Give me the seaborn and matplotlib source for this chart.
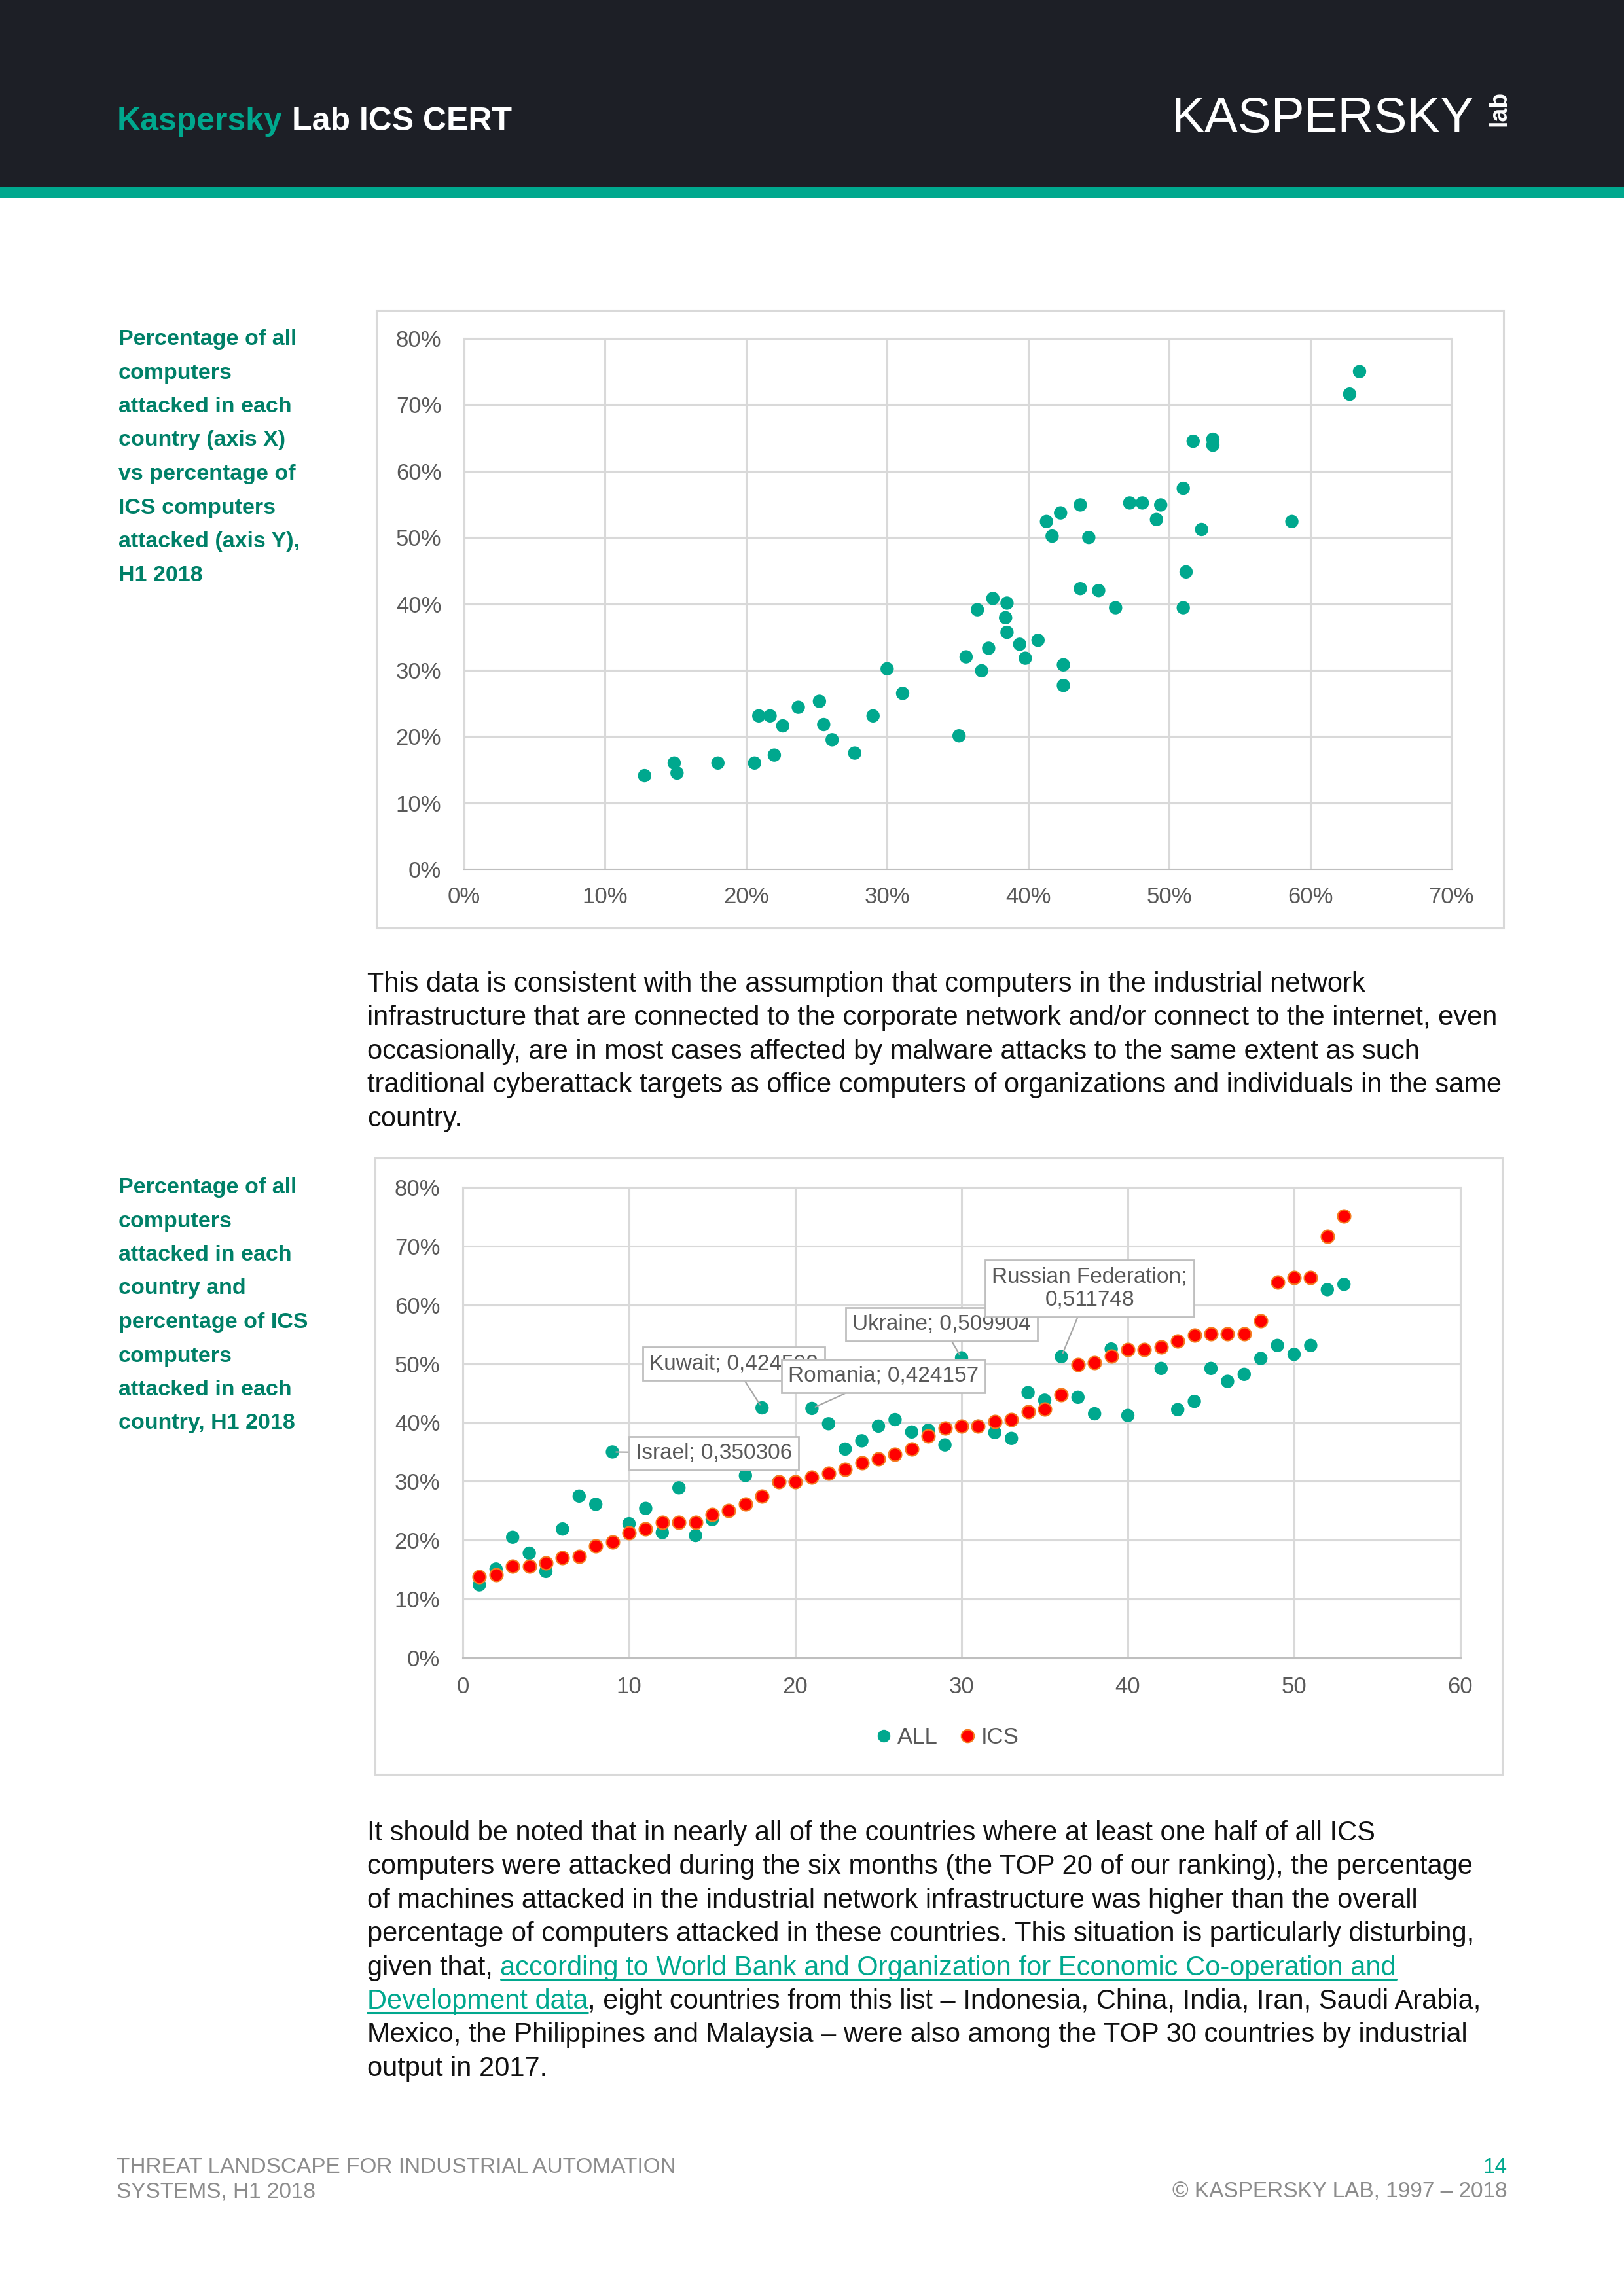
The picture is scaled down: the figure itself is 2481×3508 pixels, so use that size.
import numpy as np
import pandas as pd
import matplotlib
matplotlib.use("Agg")
import matplotlib.pyplot as plt
import seaborn as sns
from matplotlib import font_manager
from matplotlib.ticker import FuncFormatter, MultipleLocator
from matplotlib.patches import Rectangle
from matplotlib.lines import Line2D

# ---------------- data ----------------
# Chart 1: share of all computers attacked (x) vs share of ICS computers attacked (y), %
top_all = [12.8, 14.9, 15.1, 18.0, 20.6, 20.9, 21.7, 22.0, 22.6, 23.7, 25.2, 25.5, 26.1,
           27.7, 29.0, 30.0, 31.1, 35.1, 35.6, 36.4, 36.7, 37.2, 37.5, 38.5, 38.4, 38.5,
           39.4, 39.8, 40.7, 41.3, 41.7, 42.3, 42.5, 42.5, 43.7, 43.7, 44.3, 45.0, 46.2,
           47.2, 48.1, 49.4, 49.1, 51.0, 51.2, 51.0, 51.7, 53.1, 53.1, 52.3, 58.7, 62.8, 63.5]
top_ics = [14.1, 16.0, 14.5, 16.0, 16.0, 23.1, 23.1, 17.2, 21.6, 24.4, 25.3, 21.8, 19.5,
           17.5, 23.1, 30.2, 26.5, 20.1, 32.0, 39.1, 29.9, 33.3, 40.8, 40.1, 37.9, 35.7,
           33.9, 31.8, 34.5, 52.4, 50.2, 53.7, 30.8, 27.7, 54.9, 42.3, 50.0, 42.0, 39.4,
           55.2, 55.2, 54.9, 52.7, 57.4, 44.8, 39.4, 64.5, 64.8, 63.9, 51.2, 52.4, 71.6, 75.0]

# Chart 2: countries ranked by ICS share (x = rank), %
rank = list(range(1, 54))
bottom_all = [12.4, 15.1, 20.5, 17.8, 14.7, 21.9, 27.5, 26.1, 35.0, 22.8,
              25.4, 21.3, 28.9, 20.8, 23.5, 25.0, 31.0, 42.5, 29.9, 29.9,
              42.4, 39.8, 35.5, 36.9, 39.4, 40.5, 38.4, 38.7, 36.2, 51.0,
              39.4, 38.3, 37.3, 45.1, 43.8, 51.2, 44.3, 41.5, 52.5, 41.2,
              52.4, 49.2, 42.2, 43.6, 49.2, 47.0, 48.2, 50.9, 53.1, 51.6,
              53.1, 62.6, 63.5]
bottom_ics = [13.8, 14.1, 15.6, 15.6, 16.1, 17.0, 17.3, 19.0, 19.7, 21.3,
              21.9, 23.0, 23.0, 23.0, 24.4, 25.0, 26.2, 27.5, 29.9, 29.9,
              30.7, 31.4, 32.1, 33.2, 33.8, 34.6, 35.5, 37.7, 39.1, 39.4,
              39.4, 40.2, 40.5, 41.8, 42.3, 44.7, 49.9, 50.2, 51.3, 52.4,
              52.4, 52.8, 53.8, 54.9, 55.1, 55.1, 55.1, 57.3, 63.9, 64.6,
              64.6, 71.6, 75.1]
series_names = ["ALL", "ICS"]
label_countries = ["Israel", "Kuwait", "Romania", "Ukraine", "Russian Federation"]
label_ranks = [9, 18, 21, 30, 36]
label_values = ["0,350306", "0,424590", "0,424157", "0,509904", "0,511748"]

top_xticks = [0, 10, 20, 30, 40, 50, 60, 70]
yticks = [0, 10, 20, 30, 40, 50, 60, 70, 80]
bottom_xticks = [0, 10, 20, 30, 40, 50, 60]

# ---------------- style ----------------
W, H = 2481, 3508
sns.set_style("white")
names = {f.name for f in font_manager.fontManager.ttflist}
BASE = "Liberation Sans" if "Liberation Sans" in names else "DejaVu Sans"
NARROW = "Liberation Sans Narrow" if "Liberation Sans Narrow" in names else None
plt.rcParams["font.family"] = [BASE, "DejaVu Sans"]

TEAL = "#00A88E"
DARK_TEAL = "#008068"
GRID = "#d9d9d9"
TICK = "#595959"
RED = "#FF0000"
RED_EDGE = "#F47B20"

fig = plt.figure(figsize=(W / 100, H / 100), dpi=100)
fig.patch.set_facecolor("white")


def fx(x):
    return x / W


def fy(y):
    return 1 - y / H


renderer = fig.canvas.get_renderer()


def text_w(t):
    return t.get_window_extent(renderer=renderer).width


def space_w(size, weight="normal"):
    a = fig.text(0, 0, "a a", fontsize=size, weight=weight)
    b = fig.text(0, 0, "aa", fontsize=size, weight=weight)
    w = text_w(a) - text_w(b)
    a.remove(); b.remove()
    return w


# ---------------- header ----------------
fig.add_artist(Rectangle((0, fy(286)), 1, 286 / H, transform=fig.transFigure,
                         facecolor="#1d1f26", edgecolor="none", zorder=0))
fig.add_artist(Rectangle((0, fy(303)), 1, 17 / H, transform=fig.transFigure,
                         facecolor=TEAL, edgecolor="none", zorder=0))
t1 = fig.text(fx(179), fy(199), "Kaspersky", color=TEAL, fontsize=36,
              weight="bold", va="baseline", ha="left")
w1 = text_w(t1)
sp = space_w(36, "bold")
fig.text(fx(179 + w1 + sp), fy(199), "Lab ICS CERT", color="white", fontsize=36,
         weight="bold", va="baseline", ha="left")

logo_family = [NARROW, BASE] if NARROW else [BASE]
fig.text(fx(2252), fy(202), "KASPERSKY", color="white",
         fontsize=68 if NARROW else 55, family=logo_family,
         va="baseline", ha="right")
fig.text(fx(2290), fy(166), "lab", color="white", fontsize=27, weight="bold",
         rotation=90, va="center", ha="center")

# ---------------- side titles ----------------
side_family = [NARROW, BASE] if NARROW else [BASE]
side_size = 30 if NARROW else 24.5
side1 = ["Percentage of all", "computers", "attacked in each", "country (axis X)",
         "vs percentage of", "ICS computers", "attacked (axis Y),", "H1 2018"]
side2 = ["Percentage of all", "computers", "attacked in each", "country and",
         "percentage of ICS", "computers", "attacked in each", "country, H1 2018"]
for i, line in enumerate(side1):
    fig.text(fx(181), fy(527 + i * 51.5), line, color=DARK_TEAL, fontsize=side_size,
             weight="bold", family=side_family, va="baseline")
for i, line in enumerate(side2):
    fig.text(fx(181), fy(1823 + i * 51.5), line, color=DARK_TEAL, fontsize=side_size,
             weight="bold", family=side_family, va="baseline")

# ---------------- body text ----------------
BODY = 30
LH = 51.4
para1 = ["This data is consistent with the assumption that computers in the industrial network",
         "infrastructure that are connected to the corporate network and/or connect to the internet, even",
         "occasionally, are in most cases affected by malware attacks to the same extent as such",
         "traditional cyberattack targets as office computers of organizations and individuals in the same",
         "country."]
for i, line in enumerate(para1):
    fig.text(fx(561), fy(1515 + i * LH), line, color="#111111", fontsize=BODY,
             va="baseline")

para2_pre = ["It should be noted that in nearly all of the countries where at least one half of all ICS",
             "computers were attacked during the six months (the TOP 20 of our ranking), the percentage",
             "of machines attacked in the industrial network infrastructure was higher than the overall",
             "percentage of computers attacked in these countries. This situation is particularly disturbing,"]
for i, line in enumerate(para2_pre):
    fig.text(fx(561), fy(2812 + i * LH), line, color="#111111", fontsize=BODY,
             va="baseline")

bsp = space_w(BODY)


def underline(x0, w, ybase):
    fig.add_artist(Line2D([fx(x0), fx(x0 + w)], [fy(ybase + 6), fy(ybase + 6)],
                          transform=fig.transFigure, color=TEAL, lw=2.2))


y5 = 2812 + 4 * LH
ta = fig.text(fx(561), fy(y5), "given that,", color="#111111", fontsize=BODY, va="baseline")
xa = 561 + text_w(ta) + bsp
tl = fig.text(fx(xa), fy(y5), "according to World Bank and Organization for Economic Co-operation and",
              color=TEAL, fontsize=BODY, va="baseline")
underline(xa, text_w(tl), y5)

y6 = 2812 + 5 * LH
tl2 = fig.text(fx(561), fy(y6), "Development data", color=TEAL, fontsize=BODY, va="baseline")
wl2 = text_w(tl2)
underline(561, wl2, y6)
fig.text(fx(561 + wl2), fy(y6),
         ", eight countries from this list \u2013 Indonesia, China, India, Iran, Saudi Arabia,",
         color="#111111", fontsize=BODY, va="baseline")
fig.text(fx(561), fy(2812 + 6 * LH),
         "Mexico, the Philippines and Malaysia \u2013 were also among the TOP 30 countries by industrial",
         color="#111111", fontsize=BODY, va="baseline")
fig.text(fx(561), fy(2812 + 7 * LH), "output in 2017.", color="#111111", fontsize=BODY,
         va="baseline")

# ---------------- footer ----------------
FOOT = "#8c8c8c"
FS = 24
fig.text(fx(178), fy(3320), "THREAT LANDSCAPE FOR INDUSTRIAL AUTOMATION", color=FOOT,
         fontsize=FS, va="baseline")
fig.text(fx(178), fy(3357), "SYSTEMS, H1 2018", color=FOOT, fontsize=FS, va="baseline")
fig.text(fx(2303), fy(3320), "14", color=TEAL, fontsize=FS, va="baseline", ha="right")
fig.text(fx(2303), fy(3357), "\u00a9 KASPERSKY LAB, 1997 \u2013 2018", color=FOOT,
         fontsize=FS, va="baseline", ha="right")

# ---------------- chart frames ----------------
for (x0, y0, x1, y1) in [(575, 474, 2297, 1418), (573, 1769, 2295, 2711)]:
    fig.add_artist(Rectangle((fx(x0), fy(y1)), (x1 - x0) / W, (y1 - y0) / H,
                             transform=fig.transFigure, fill=False,
                             edgecolor=GRID, lw=2.2, zorder=1))

pct = FuncFormatter(lambda v, p: f"{int(round(v))}%")


def style_axes(ax, xpad):
    ax.set_facecolor("white")
    ax.grid(True, color=GRID, lw=2.2, zorder=0)
    ax.set_axisbelow(True)
    for s in ax.spines.values():
        s.set_color(GRID)
        s.set_linewidth(2.2)
    ax.spines["bottom"].set_color("#bfbfbf")
    ax.tick_params(axis="both", length=0, labelsize=25, labelcolor=TICK)
    ax.tick_params(axis="y", pad=25)
    ax.tick_params(axis="x", pad=xpad)
    ax.set_xlabel("")
    ax.set_ylabel("")


# ---------------- chart 1 ----------------
ax1 = fig.add_axes([fx(709), fy(1328), (2217 - 709) / W, (1328 - 517) / H])
df_top = pd.DataFrame({"all": top_all, "ics": top_ics})
sns.scatterplot(data=df_top, x="all", y="ics", ax=ax1, color=TEAL, s=215,
                edgecolor="none", linewidth=0, zorder=3, legend=False)
ax1.set_xlim(0, 70)
ax1.set_ylim(0, 80)
ax1.set_xticks(top_xticks)
ax1.set_yticks(yticks)
ax1.xaxis.set_major_formatter(pct)
ax1.yaxis.set_major_formatter(pct)
style_axes(ax1, 19)

# ---------------- chart 2 ----------------
ax2 = fig.add_axes([fx(707), fy(2533), (2231 - 707) / W, (2533 - 1814) / H])
df_bot = pd.DataFrame({"rank": rank * 2,
                       "value": bottom_all + bottom_ics,
                       "series": [series_names[0]] * len(rank) + [series_names[1]] * len(rank)})
sns.scatterplot(data=df_bot[df_bot.series == "ALL"], x="rank", y="value", ax=ax2,
                color=TEAL, s=215, edgecolor="none", linewidth=0, zorder=3, legend=False)
sns.scatterplot(data=df_bot[df_bot.series == "ICS"], x="rank", y="value", ax=ax2,
                color=RED, s=205, edgecolor=RED_EDGE, linewidth=1.6, zorder=4, legend=False)
ax2.set_xlim(0, 60)
ax2.set_ylim(0, 80)
ax2.set_xticks(bottom_xticks)
ax2.set_yticks(yticks)
ax2.yaxis.set_major_formatter(pct)
style_axes(ax2, 20)

# data labels (text box positions in data units)
label_pos = [(15.1, 34.8), (16.3, 50.0), (25.3, 47.9), (28.8, 56.7), (37.7, 62.8)]
label_z = [6, 6, 8, 6, 8]
for name, r, val, (tx, ty), z in zip(label_countries, label_ranks, label_values, label_pos, label_z):
    yv = bottom_all[r - 1]
    txt = f"{name}; {val}" if name != "Russian Federation" else f"{name};\n{val}"
    ax2.annotate(txt, xy=(r, yv), xytext=(tx, ty), textcoords="data",
                 fontsize=24, color=TICK, ha="center", va="center",
                 multialignment="center", linespacing=1.2,
                 bbox=dict(boxstyle="square,pad=0.3", fc="white", ec="#bfbfbf", lw=2),
                 arrowprops=dict(arrowstyle="-", color="#a6a6a6", lw=1.6,
                                 shrinkA=0, shrinkB=4),
                 zorder=z)

# legend
handles = [Line2D([], [], ls="none", marker="o", markersize=14, markerfacecolor=TEAL,
                  markeredgecolor="none"),
           Line2D([], [], ls="none", marker="o", markersize=14, markerfacecolor=RED,
                  markeredgecolor=RED_EDGE, markeredgewidth=1.6)]
fig.legend(handles, series_names, loc="center", bbox_to_anchor=(fx(1445), fy(2655)),
           ncol=2, frameon=False, fontsize=25, labelcolor=TICK, handletextpad=0.1,
           columnspacing=0.8, handlelength=1.0)

fig.savefig("out.png", dpi=100, facecolor="white")
